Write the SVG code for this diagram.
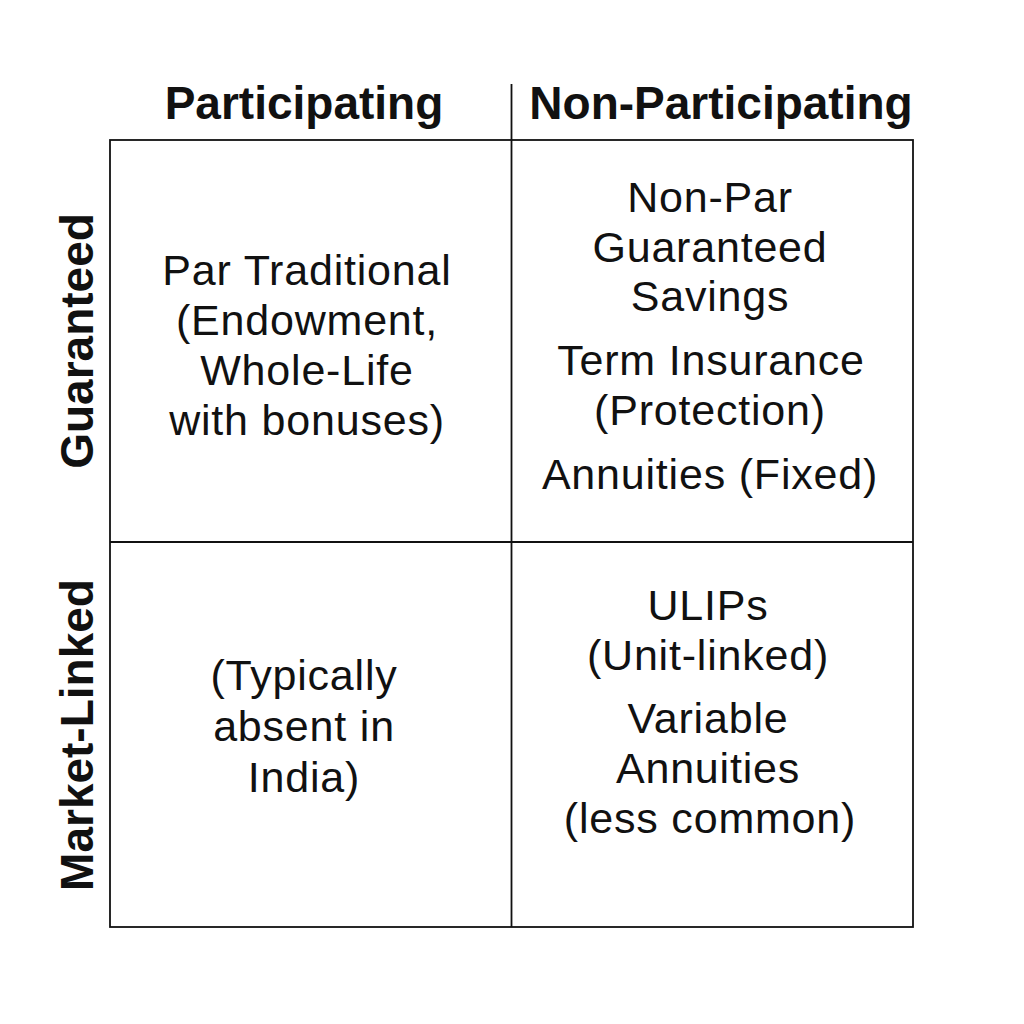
<svg xmlns="http://www.w3.org/2000/svg" width="1024" height="1024" viewBox="0 0 1024 1024">
  <style>
    .hdr { font-family: "Liberation Sans", Arial, sans-serif; font-weight: bold; font-size: 46px; fill: #111; text-anchor: middle; }
    .body { font-family: "Liberation Sans", Arial, sans-serif; font-size: 43px; letter-spacing: 0.8px; fill: #111; text-anchor: middle; }
    .grid { fill: none; stroke: #111; stroke-width: 1.8; }
  </style>
  <rect width="1024" height="1024" fill="#ffffff"/>
  <g id="grid">
    <rect class="grid" x="110" y="140" width="803" height="787"/>
    <line class="grid" x1="511.5" y1="84" x2="511.5" y2="927"/>
    <line class="grid" x1="110" y1="542" x2="913" y2="542" stroke-width="2.5"/>
  </g>
  <g id="col-headers">
    <text class="hdr" x="304" y="119">Participating</text>
    <text class="hdr" x="721" y="119">Non-Participating</text>
  </g>
  <g id="row-headers">
    <text class="hdr" transform="translate(93,341) rotate(-90)" x="0" y="0">Guaranteed</text>
    <text class="hdr" transform="translate(93,735) rotate(-90)" x="0" y="0" font-size="45.5">Market-Linked</text>
  </g>
  <g id="cell-par-guaranteed">
    <text class="body" x="307" y="285">Par Traditional</text>
    <text class="body" x="307" y="335">(Endowment,</text>
    <text class="body" x="307" y="385">Whole-Life</text>
    <text class="body" x="307" y="435">with bonuses)</text>
  </g>
  <g id="cell-nonpar-guaranteed">
    <text class="body" x="710" y="212">Non-Par</text>
    <text class="body" x="710" y="262">Guaranteed</text>
    <text class="body" x="710" y="311">Savings</text>
    <text class="body" x="711" y="375">Term Insurance</text>
    <text class="body" x="710" y="425">(Protection)</text>
    <text class="body" x="710" y="489">Annuities (Fixed)</text>
  </g>
  <g id="cell-par-market">
    <text class="body" x="304" y="690">(Typically</text>
    <text class="body" x="304" y="741">absent in</text>
    <text class="body" x="304" y="792">India)</text>
  </g>
  <g id="cell-nonpar-market">
    <text class="body" x="708" y="620">ULIPs</text>
    <text class="body" x="708" y="670">(Unit-linked)</text>
    <text class="body" x="708" y="733">Variable</text>
    <text class="body" x="708" y="783">Annuities</text>
    <text class="body" x="710" y="833">(less common)</text>
  </g>
</svg>
